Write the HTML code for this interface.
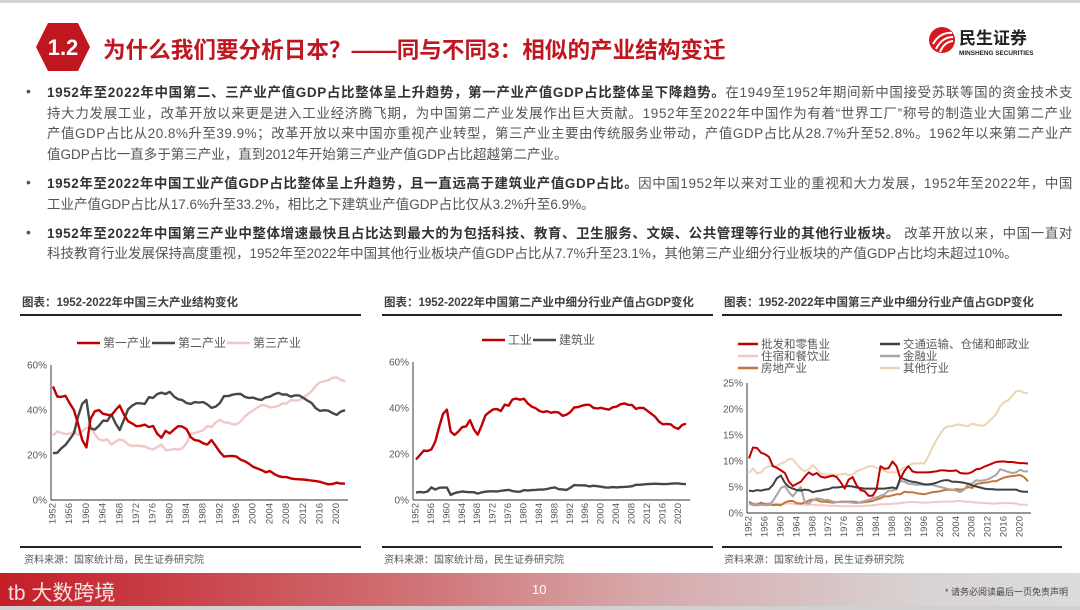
<!DOCTYPE html>
<html><head><meta charset="utf-8">
<style>
*{margin:0;padding:0;box-sizing:border-box}
body{width:1080px;height:610px;overflow:hidden;background:#fff;font-family:"Liberation Sans","Noto Sans CJK SC",sans-serif;position:relative}
.ln{position:absolute;left:47px;white-space:nowrap;font-size:13.5px;color:#555;line-height:20px}
.ln b{color:#333;font-weight:bold}
.bul{position:absolute;left:26px;font-size:14px;color:#555}
.ct{position:absolute;font-size:11.5px;font-weight:bold;color:#404040;white-space:nowrap}
.src{position:absolute;font-size:10px;color:#595959;white-space:nowrap}
.rule{position:absolute;height:1.5px;background:#222}
</style></head>
<body>
<div style="position:absolute;left:0;top:0;width:1080px;height:3px;background:#d4d4d4"></div>
<svg style="position:absolute;left:36px;top:23px" width="54" height="48">
<polygon points="12,0 42,0 54,24 42,48 12,48 0,24" fill="#c0161f"/>
<text x="27" y="32" text-anchor="middle" font-family="Liberation Sans" font-weight="bold" font-size="22" fill="#fff">1.2</text>
</svg>
<div style="position:absolute;left:103px;top:32px;font-size:22.6px;font-weight:bold;color:#c0161f;white-space:nowrap">为什么我们要分析日本？——同与不同3：相似的产业结构变迁</div>
<svg style="position:absolute;left:928px;top:24px" width="120" height="34">
<circle cx="14" cy="16" r="13" fill="#d7191f"/>
<path d="M5,20 Q12,8 24,9 M8,25 Q14,13 25,13 M12,28 Q16,18 25,17" stroke="#fff" stroke-width="2" fill="none"/>
<text x="31" y="20" font-family="Noto Sans CJK SC" font-weight="bold" font-size="17" fill="#222">民生证券</text>
<text x="31" y="31" font-family="Liberation Sans" font-weight="bold" font-size="6.4" fill="#222">MINSHENG SECURITIES</text>
</svg>

<div class="bul" style="top:83px">•</div>
<div class="ln fit" style="top:83px"><b>1952年至2022年中国第二、三产业产值GDP占比整体呈上升趋势，第一产业产值GDP占比整体呈下降趋势。</b>在1949至1952年期间新中国接受苏联等国的资金技术支</div>
<div class="ln fit" style="top:104px">持大力发展工业，改革开放以来更是进入工业经济腾飞期，为中国第二产业发展作出巨大贡献。1952年至2022年中国作为有着“世界工厂”称号的制造业大国第二产业</div>
<div class="ln fit" style="top:124px">产值GDP占比从20.8%升至39.9%；改革开放以来中国亦重视产业转型，第三产业主要由传统服务业带动，产值GDP占比从28.7%升至52.8%。1962年以来第二产业产</div>
<div class="ln" style="top:145px">值GDP占比一直多于第三产业，直到2012年开始第三产业产值GDP占比超越第二产业。</div>
<div class="bul" style="top:174px">•</div>
<div class="ln fit" style="top:174px"><b>1952年至2022年中国工业产值GDP占比整体呈上升趋势，且一直远高于建筑业产值GDP占比。</b>因中国1952年以来对工业的重视和大力发展，1952年至2022年，中国</div>
<div class="ln" style="top:195px">工业产值GDP占比从17.6%升至33.2%，相比之下建筑业产值GDP占比仅从3.2%升至6.9%。</div>
<div class="bul" style="top:224px">•</div>
<div class="ln fit" style="top:224px"><b>1952年至2022年中国第三产业中整体增速最快且占比达到最大的为包括科技、教育、卫生服务、文娱、公共管理等行业的其他行业板块。</b> 改革开放以来，中国一直对</div>
<div class="ln" style="top:244px">科技教育行业发展保持高度重视，1952年至2022年中国其他行业板块产值GDP占比从7.7%升至23.1%，其他第三产业细分行业板块的产值GDP占比均未超过10%。</div>

<div class="ct" style="left:22px;top:294px">图表：1952-2022年中国三大产业结构变化</div>
<div class="ct" style="left:384px;top:294px">图表：1952-2022年中国第二产业中细分行业产值占GDP变化</div>
<div class="ct" style="left:724px;top:294px">图表：1952-2022年中国第三产业中细分行业产值占GDP变化</div>
<div class="rule" style="left:20px;top:314px;width:341px"></div>
<div class="rule" style="left:382px;top:314px;width:331px"></div>
<div class="rule" style="left:722px;top:314px;width:340px"></div>
<div class="rule" style="left:20px;top:546px;width:341px"></div>
<div class="rule" style="left:382px;top:546px;width:331px"></div>
<div class="rule" style="left:722px;top:546px;width:340px"></div>
<div class="src" style="left:24px;top:551px">资料来源：国家统计局，民生证券研究院</div>
<div class="src" style="left:384px;top:551px">资料来源：国家统计局，民生证券研究院</div>
<div class="src" style="left:724px;top:551px">资料来源：国家统计局，民生证券研究院</div>

<svg id="charts" style="position:absolute;left:0;top:0" width="1080" height="610"></svg>

<div style="position:absolute;left:0;top:573px;width:1080px;height:33px;background:linear-gradient(90deg,#c41e27 0%,#cf6a6e 35%,#d7a9ab 60%,#d9d2d2 85%,#dcdcdc 100%)"></div>
<div style="position:absolute;left:8px;top:577px;font-size:21px;color:#fff;opacity:.85;white-space:nowrap">tb 大数跨境</div>
<div style="position:absolute;left:532px;top:582px;font-size:13px;color:#fff">10</div>
<div style="position:absolute;right:12px;top:585px;font-size:9px;color:#444;white-space:nowrap">* 请务必阅读最后一页免责声明</div>
<div style="position:absolute;left:0;top:606px;width:1080px;height:4px;background:#d0d0d0"></div>

<script>
document.querySelectorAll('.fit').forEach(function(el){
  var w=el.getBoundingClientRect().width, n=el.textContent.length;
  el.style.letterSpacing=((1026-w)/n)+'px';
});

const years=[];for(let y=1952;y<=2022;y++)years.push(y);
const tickYears=[1952,1956,1960,1964,1968,1972,1976,1980,1984,1988,1992,1996,2000,2004,2008,2012,2016,2020];

// Chart 1
const primary=[50.5,46,45.8,46.3,43,40,34,26.7,23.4,36,39.4,40,38.3,37.9,37.6,40,42,38,35,34,32.8,33,33.5,32.4,32.9,29.4,27.7,30.7,29.6,31.3,32.8,32.6,31.5,27.9,26.6,26.3,25.2,24.6,26.6,24,21.3,19.3,19.5,19.6,19.3,17.9,17.2,16.1,14.7,14,13.3,12.3,12.9,11.6,10.6,10.2,10.2,9.6,9.3,9.2,9.1,8.9,8.6,8.4,8.1,7.5,7,7.1,7.7,7.3,7.3];
const secondary=[20.8,21,23,24.5,27,29.7,37,42.7,44.5,31.9,31.3,33,35.3,35.1,38,34,31.1,35.6,40.3,42,43,43,42.7,45.7,45.4,47.1,47.7,47.1,48.1,46,44.8,44.4,43.1,42.7,43.5,43.3,43.5,42.5,41,41.5,43.1,46.2,46.2,46.8,47.1,47.1,45.8,45.4,45.5,44.8,44.5,45.6,45.9,47,47.6,46.9,46.9,45.9,46.5,46.5,45.4,44.2,43.1,40.8,39.6,39.9,39.7,38.6,37.8,39.3,39.9];
const tertiary=[28.7,30.5,29.8,29.3,29.5,30.3,29,30.6,32.1,32.1,29.3,27,26.4,27,24.6,26,26.9,26.4,24.7,24,24.2,24,23.8,22.9,22.5,23.5,24.6,22.2,22.3,22.7,22.4,23,25.3,29.4,29.8,30.4,31,32.9,32.4,34.5,35.6,34.5,34.4,33.7,33.6,35,37.1,38.6,39.8,41.2,42.2,42,41.2,41.3,41.8,42.9,42.9,44.4,44.2,44.3,45.5,46.9,48.3,50.8,52.4,52.7,53.3,54.3,54.5,53.4,52.8];
const c1Ticks=[0,20,40,60];
// Chart 2
const industry=[17.6,19.5,21.5,21.3,22,25.4,31.7,37.4,39.3,29.7,28.3,29.8,31.7,32,34.7,30.7,28.4,32.3,36.8,38.2,39.4,39.5,38.7,41.5,41,43.7,44.1,43.6,44,41.9,40.6,39.9,38.7,38.2,38.6,37.9,38.3,38,36.6,37.1,38.2,40.2,40.4,41,41.4,41.4,40.1,39.8,40.1,39.6,39.3,40.3,40.6,41.6,42,41.4,41.3,39.6,40.1,40,38.8,37.5,36.2,34.1,32.9,33.1,32.9,31.6,30.9,32.6,33.2];
const construction=[3.2,3.5,3.3,3.7,5.5,4.5,5.3,5.4,5.4,2.2,3,3.4,3.7,3.5,3.4,3.4,2.8,3.3,3.6,3.8,3.8,3.7,4,4.2,4.4,3.9,3.6,3.6,4.3,4.1,4.3,4.4,4.5,4.5,4.8,5.2,5.5,4.7,4.6,4.4,5.3,6.5,6.4,6.4,6.3,5.9,6.2,6,5.8,5.5,5.4,5.6,5.5,5.6,5.7,5.8,6,6.6,6.6,6.8,6.9,7,7.1,7,6.9,6.9,7.1,7.2,7.2,7,6.9];
const c2Ticks=[0,20,40,60];
// Chart 3
const wholesale=[10.5,12.6,12.5,11.6,11.3,10.8,9,8.7,8.2,7.7,6,5.2,5.6,6,7,7.8,7.3,7.7,7,6.8,7,7.2,6.9,5.9,4.7,6.4,6.9,5.3,4.4,4.2,3.3,3.3,4.5,9,8.5,8.6,9.9,9,6.6,8.1,9,8,7.8,7.8,7.8,7.8,7.9,8,8.2,8.2,8.1,8.1,8.2,7.7,7.6,7.6,7.9,8.4,8.5,8.9,9.2,9.5,9.8,9.9,9.9,9.8,9.8,9.7,9.6,9.6,9.5];
const transport=[4.3,4.2,4.4,4.3,4.5,4.6,5.4,6.7,7.2,5.8,5,4.7,4.4,4.3,4.5,4.4,4,4.2,4.3,4.5,4.6,4.9,4.9,5,5.1,5.2,5.1,4.9,4.8,4.7,4.7,4.7,4.7,4.7,4.7,4.8,4.9,4.7,6.8,6.5,6.2,6,5.9,5.7,5.5,5.5,5.6,5.8,6.1,6.3,6.3,6,6,5.9,5.8,5.6,5.3,5.1,4.9,4.7,4.6,4.6,4.5,4.5,4.5,4.5,4.5,4.5,4.2,4.1,4.1];
const hotel=[1.8,1.8,1.9,1.8,1.8,1.9,1.8,1.8,1.7,1.8,1.9,1.8,1.7,1.7,1.6,1.6,1.6,1.5,1.5,1.5,1.4,1.4,1.4,1.3,1.3,1.3,1.3,1.3,1.3,1.4,1.4,1.5,1.6,1.7,1.7,1.7,1.8,1.8,1.9,2,2.1,2.1,2.1,2,2,2,2.1,2.1,2.2,2.2,2.2,2.2,2.3,2.3,2.2,2.2,2.1,2,2,1.9,1.9,1.8,1.8,1.9,1.9,1.9,1.9,1.8,1.6,1.6,1.6];
const finance=[1.8,1.5,1.5,1.6,1.5,1.5,2.3,3.5,4.8,5.2,4,3.2,4.2,5,2,1.8,2.5,2.8,2.7,2.5,2.5,2.2,2.1,2.1,2.1,2.1,2,1.9,2.1,2.3,2.5,2.8,3,3.3,3.6,4.3,4.3,4.6,6.2,6,5.6,5.6,5.4,5.5,5.4,5.4,5.4,5.2,5,4.8,4.6,4.5,4.3,4,4.5,5.6,5.7,6.3,6.2,6.3,6.5,6.9,7.3,8.4,8.2,7.9,7.7,7.8,8.3,8,8];
const realEstate=[2.2,1.7,1.6,2,1.7,1.7,1.5,1.6,1.5,2,2.3,2.3,1.9,1.8,2,2.4,2.6,2.5,2.2,2.2,2.1,2,2.1,2.2,2.2,2.2,2.2,2.1,2,2.1,2.2,2.3,2.6,2.8,3.2,3.2,3.4,3.6,3.6,4.1,4,4,3.8,3.7,3.6,3.8,4,4.1,4.2,4.4,4.5,4.4,4.6,4.5,4.6,5,4.8,5.6,5.7,5.8,5.9,6.1,6.1,6.5,6.8,7,7.1,7.2,7.3,6.9,6.1];
const others=[7.7,8.6,7.6,7.8,8.6,9,9,9.1,9.5,9.8,10.4,10.3,9.4,8.5,8,8.4,9.2,8.4,7.6,7.4,7.4,7.4,7.3,7.4,7.6,7.3,7.4,8,8.3,8.6,9,9,8.7,8.5,8.1,7.8,7.8,7.8,8.2,8.8,9,9.5,9.5,9.6,9.5,11,12.5,14,15.2,16.3,16.7,16.7,17,17,16.8,16.7,17.2,17,16.8,16.8,17.5,18.2,19,20.5,21.3,21.7,22.5,23.4,23.5,23.1,23.1];
const c3Ticks=[0,5,10,15,20,25];

const NS='http://www.w3.org/2000/svg';
const svg=document.getElementById('charts');
function mk(tag,attrs,parent){const e=document.createElementNS(NS,tag);for(const k in attrs)e.setAttribute(k,attrs[k]);(parent||svg).appendChild(e);return e;}

function drawChart(cfg){
  const g=mk('g',{});
  
  
  const xs=y=>cfg.x0+(y-1952)*(cfg.x1-cfg.x0)/70;
  const ys=v=>cfg.yb-(v/cfg.ymax)*(cfg.yb-cfg.yt);
  cfg.ticks.forEach(t=>{
    const tx=mk('text',{x:cfg.ax-4,y:ys(t)+3.5,'text-anchor':'end','font-size':'10',fill:'#595959','font-family':'Liberation Sans'},g);
    tx.textContent=t+'%';
    
    
  });
  mk('line',{x1:cfg.ax,y1:ys(cfg.ymax),x2:cfg.ax,y2:cfg.yb,stroke:'#595959','stroke-width':'1.2'},g);
  mk('line',{x1:cfg.ax,y1:cfg.yb,x2:cfg.axEnd,y2:cfg.yb,stroke:'#595959','stroke-width':'1.2'},g);
  tickYears.forEach(yr=>{
    const x=xs(yr);
    const tx=mk('text',{x:0,y:0,'text-anchor':'end','dominant-baseline':'middle','font-size':'9.5',fill:'#595959','font-family':'Liberation Sans',transform:'translate('+x+','+(cfg.yb+3)+') rotate(-90)'},g);
    tx.textContent=yr;
    
    
  });
  cfg.series.forEach(s=>{
    const d=s.data.map((v,i)=>(i?'L':'M')+xs(years[i]).toFixed(1)+','+ys(v).toFixed(1)).join('');
    const p=mk('path',{d:d,fill:'none',stroke:s.color,'stroke-width':s.w||2.4,'stroke-linejoin':'round'},g);
    
    
  });
  cfg.legend.forEach(l=>{
    const lg=mk('g',{},g);
    
    
    mk('line',{x1:l.x,y1:l.y,x2:l.x+l.len,y2:l.y,stroke:l.color,'stroke-width':'2.6'},lg);
    const t=mk('text',{x:l.x+l.len+3,y:l.y+4,'font-size':cfg.lfs||'11.5',fill:'#595959','font-family':'Noto Sans CJK SC'},lg);
    t.textContent=l.label;
  });
}

drawChart({name:'chart-three-industries',x0:53,x1:345,ax:51,axEnd:348,yt:365,yb:500,ymax:60,ticks:c1Ticks,lfs:'12',
 series:[{id:'line-tertiary',data:tertiary,color:'#f0c8c8'},{id:'line-secondary',data:secondary,color:'#474747'},{id:'line-primary',data:primary,color:'#c00000'}],
 legend:[{x:77,y:343,len:23,color:'#c00000',label:'第一产业'},{x:152,y:343,len:23,color:'#474747',label:'第二产业'},{x:227,y:343,len:23,color:'#f0c8c8',label:'第三产业'}]});

drawChart({name:'chart-secondary-sectors',x0:416,x1:686,ax:413,axEnd:690,yt:362,yb:500,ymax:60,ticks:c2Ticks,lfs:'12',
 series:[{id:'line-industry',data:industry,color:'#c00000'},{id:'line-construction',data:construction,color:'#474747'}],
 legend:[{x:482,y:340,len:23,color:'#c00000',label:'工业'},{x:533,y:340,len:23,color:'#474747',label:'建筑业'}]});

drawChart({name:'chart-tertiary-sectors',x0:749,x1:1028,ax:747,axEnd:1031,yt:383,yb:513,ymax:25,ticks:c3Ticks,
 series:[{id:'line-others',data:others,color:'#e9d6b2',w:2},{id:'line-hotel',data:hotel,color:'#f2c6cb',w:2},{id:'line-real-estate',data:realEstate,color:'#c4763b',w:2},{id:'line-finance',data:finance,color:'#a6a6a6',w:2},{id:'line-transport',data:transport,color:'#404040',w:2},{id:'line-wholesale',data:wholesale,color:'#c00000',w:2}],
 legend:[{x:738,y:344,len:20,color:'#c00000',label:'批发和零售业'},{x:880,y:344,len:20,color:'#404040',label:'交通运输、仓储和邮政业'},
 {x:738,y:356,len:20,color:'#f2c6cb',label:'住宿和餐饮业'},{x:880,y:356,len:20,color:'#a6a6a6',label:'金融业'},
 {x:738,y:368,len:20,color:'#c4763b',label:'房地产业'},{x:880,y:368,len:20,color:'#e9d6b2',label:'其他行业'}]});
</script>
</body></html>
